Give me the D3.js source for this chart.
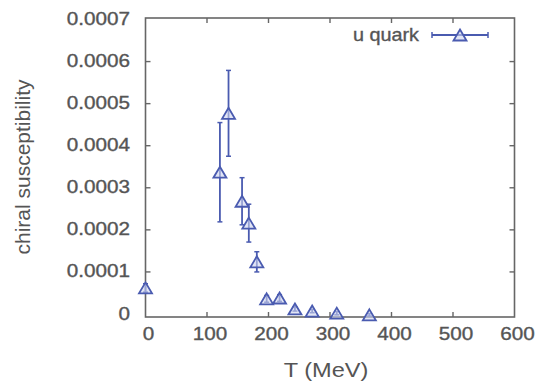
<!DOCTYPE html>
<html><head><meta charset="utf-8">
<script src="https://cdn.jsdelivr.net/npm/d3@7"></script>
<style>body{margin:0;background:#fff}svg{display:block}</style>
</head><body>
<svg id="c" width="535" height="383"></svg>
<script>
const temps = [0, 121, 135, 157, 168, 181, 197, 218, 243, 271, 311, 364];
const chi = [0.000062, 0.000337, 0.000477, 0.000268, 0.000216, 0.000124, 0.000036, 0.000038, 0.000012, 0.000007, 0.000002, -0.000002];
const err = [0.000010, 0.000118, 0.000102, 0.000056, 0.000045, 0.000024, 0.000008, 0.000008, 0.000005, 0.000004, 0.000004, 0.000003];
const xTicks = [0, 100, 200, 300, 400, 500, 600];
const yTicks = [0, 0.0001, 0.0002, 0.0003, 0.0004, 0.0005, 0.0006, 0.0007];
const yTickLabels = ["0", "0.0001", "0.0002", "0.0003", "0.0004", "0.0005", "0.0006", "0.0007"];
const seriesName = "u quark";
const xTitle = "T (MeV)";
const yTitle = "chiral susceptibility";

const svg = d3.select("#c");
const x = d3.scaleLinear().domain([0, 600]).range([145.5, 514.5]);
const y = d3.scaleLinear().domain([0, 0.0007]).range([314, 19.5]);
const fTop = 18, fBottom = 317, fLeft = x(0), fRight = x(600);
const frameCol = "#666", textCol = "#555", blue = "#4a5bb0";
const font = "Liberation Sans, Arial, sans-serif";

// frame
svg.append("rect").attr("x", fLeft).attr("y", fTop).attr("width", fRight-fLeft).attr("height", fBottom-fTop)
  .attr("fill", "none").attr("stroke", frameCol).attr("stroke-width", 1.6);

// ticks (inward, mirrored)
const tl = 5;
xTicks.slice(1, -1).forEach(t => {
  svg.append("line").attr("x1", x(t)).attr("x2", x(t)).attr("y1", fBottom).attr("y2", fBottom-tl).attr("stroke", frameCol).attr("stroke-width", 1.4);
  svg.append("line").attr("x1", x(t)).attr("x2", x(t)).attr("y1", fTop).attr("y2", fTop+tl).attr("stroke", frameCol).attr("stroke-width", 1.4);
});
yTicks.slice(1, -1).forEach(t => {
  svg.append("line").attr("x1", fLeft).attr("x2", fLeft+tl).attr("y1", y(t)).attr("y2", y(t)).attr("stroke", frameCol).attr("stroke-width", 1.4);
  svg.append("line").attr("x1", fRight).attr("x2", fRight-tl).attr("y1", y(t)).attr("y2", y(t)).attr("stroke", frameCol).attr("stroke-width", 1.4);
});

function stretchedText(tx, ty, str, anchor, size, sx, rot, sw) {
  const g = svg.append("g").attr("transform", `translate(${tx},${ty}) scale(${sx},1)` + (rot ? ` rotate(${rot})` : ""));
  g.append("text").attr("x", 0).attr("y", 0).attr("text-anchor", anchor)
    .attr("font-family", font).attr("font-size", size).attr("fill", textCol)
    .attr("stroke", textCol).attr("stroke-width", sw).text(str);
}

// tick labels
xTicks.forEach(t => stretchedText(x(t) + 3, 340, String(t), "middle", 18, 1.15, 0, 0.35));
yTicks.forEach((t, i) => stretchedText(130, y(t) + 5.5, yTickLabels[i], "end", 18, 1.15, 0, 0.35));

// axis titles
stretchedText(326, 377, xTitle, "middle", 20.5, 1.15, 0, 0);
stretchedText(30, 167, yTitle, "middle", 21, 1.0, -90, 0);

// triangle path
const tw = 6.5, th = 5.5;
function tri(cx, cy) {
  return `M${cx},${cy-th}L${cx+tw},${cy+th}L${cx-tw},${cy+th}Z`;
}

// data
const data = temps.map((t, i) => ({t, v: chi[i], e: err[i]}));
const g = svg.append("g");
data.forEach(d => {
  const cx = x(d.t), y1 = y(d.v + d.e), y2 = y(d.v - d.e);
  g.append("line").attr("x1", cx).attr("x2", cx).attr("y1", y1).attr("y2", Math.min(y2, fBottom)).attr("stroke", blue).attr("stroke-width", 1.8);
  g.append("line").attr("x1", cx-2.5).attr("x2", cx+2.5).attr("y1", y1).attr("y2", y1).attr("stroke", blue).attr("stroke-width", 1.5);
  if (y2 < fBottom) g.append("line").attr("x1", cx-2.5).attr("x2", cx+2.5).attr("y1", y2).attr("y2", y2).attr("stroke", blue).attr("stroke-width", 1.5);
  g.append("path").attr("d", tri(cx, y(d.v))).attr("fill", "#cdd3ee").attr("fill-opacity", 0.6)
    .attr("stroke", blue).attr("stroke-width", 1.8).attr("stroke-linejoin", "miter");
});

// legend
stretchedText(419, 41, seriesName, "end", 18, 1.1, 0, 0.35);
svg.append("line").attr("x1", 432).attr("x2", 488).attr("y1", 35).attr("y2", 35).attr("stroke", blue).attr("stroke-width", 1.8);
svg.append("line").attr("x1", 432).attr("x2", 432).attr("y1", 32).attr("y2", 38).attr("stroke", blue).attr("stroke-width", 1.5);
svg.append("line").attr("x1", 488).attr("x2", 488).attr("y1", 32).attr("y2", 38).attr("stroke", blue).attr("stroke-width", 1.5);
svg.append("path").attr("d", tri(460, 35)).attr("fill", "#cdd3ee").attr("fill-opacity", 0.6).attr("stroke", blue).attr("stroke-width", 1.8);
</script>
</body></html>
